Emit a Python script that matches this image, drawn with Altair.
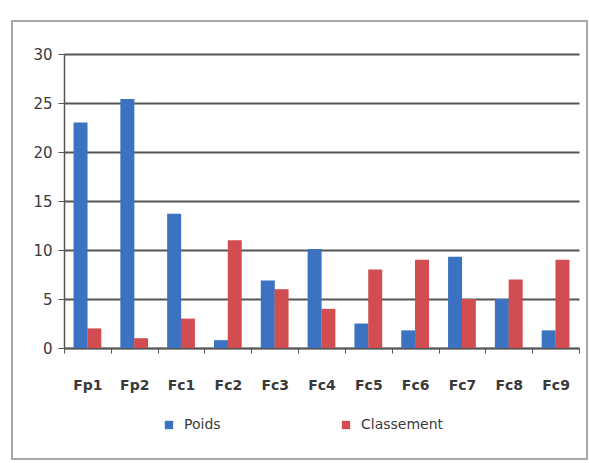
import altair as alt
import pandas as pd

# Criteria and their two series
criteres = ["Fp1", "Fp2", "Fc1", "Fc2", "Fc3", "Fc4", "Fc5", "Fc6", "Fc7", "Fc8", "Fc9"]
poids = [23.0, 25.4, 13.7, 0.8, 6.9, 10.1, 2.5, 1.8, 9.3, 5.0, 1.8]
classement = [2, 1, 3, 11, 6, 4, 8, 9, 5, 7, 9]
series = ["Poids", "Classement"]
couleurs = ["#3B72C2", "#D24D52"]

rows = []
for c, p, k in zip(criteres, poids, classement):
    rows.append({"critere": c, "serie": "Poids", "valeur": p})
    rows.append({"critere": c, "serie": "Classement", "valeur": k})
df = pd.DataFrame(rows)

font = "DejaVu Sans"

bars = alt.Chart(df).mark_bar(size=14).encode(
    x=alt.X(
        "critere:N",
        sort=criteres,
        title=None,
        scale=alt.Scale(paddingInner=0, paddingOuter=0),
        axis=alt.Axis(
            labelAngle=0,
            tickBand="extent",
            tickSize=5,
            tickColor="#555555",
            domainColor="#555555",
            domainWidth=1.5,
            labelPadding=25,
            labelFont=font,
            labelFontWeight="bold",
            labelFontSize=14,
            labelColor="#3A3A3A",
        ),
    ),
    xOffset=alt.XOffset(
        "serie:N", sort=series, scale=alt.Scale(paddingInner=0, paddingOuter=0.7)
    ),
    y=alt.Y(
        "valeur:Q",
        title=None,
        scale=alt.Scale(domain=[0, 30]),
        axis=alt.Axis(
            values=[0, 5, 10, 15, 20, 25, 30],
            tickSize=6,
            tickColor="#555555",
            domainColor="#555555",
            domainWidth=1.5,
            gridColor="#555555",
            gridWidth=2,
            labelPadding=6,
            labelFont=font,
            labelFontSize=15,
            labelColor="#3A3A3A",
        ),
    ),
    color=alt.Color(
        "serie:N",
        sort=series,
        scale=alt.Scale(domain=series, range=couleurs),
        legend=alt.Legend(
            title=None,
            orient="none",
            direction="horizontal",
            legendX=98,
            legendY=364,
            symbolType="square",
            symbolSize=70,
            symbolStrokeWidth=0,
            columnPadding=118,
            labelFont=font,
            labelFontSize=14,
            labelColor="#3A3A3A",
            labelOffset=8,
        ),
    ),
)

# Light frame around the whole chart
frame = alt.Chart(df).mark_rect(
    fill=None, stroke="#A8A8A8", strokeWidth=2
).encode(
    x=alt.value(-52), x2=alt.value(523), y=alt.value(-33), y2=alt.value(405)
)

chart = (
    alt.layer(frame, bars)
    .properties(
        width=515,
        height=294,
        autosize=alt.AutoSizeParams(type="none"),
        padding={"left": 64, "top": 54, "right": 11, "bottom": 115},
        background="white",
    )
    .configure_view(stroke=None)
)

chart.save("out.html", embed_options={"renderer": "svg", "actions": False})
